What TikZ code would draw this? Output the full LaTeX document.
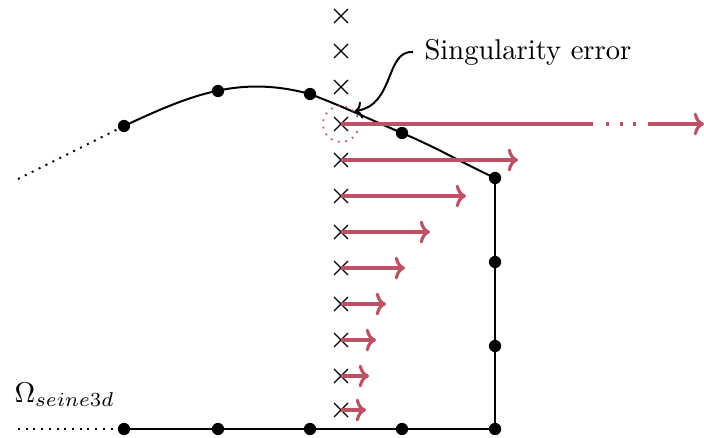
\documentclass[tikz,border=0pt]{standalone}
\usetikzlibrary{arrows.meta}
\definecolor{errred}{RGB}{192,80,100}
\begin{document}
\begin{tikzpicture}[x=0.35pt,y=-0.35pt,
  dot/.style={circle,fill=black,inner sep=0pt,minimum size=4.3pt},
  bnd/.style={line width=0.7pt},
  bdot/.style={line width=0.7pt,dotted},
  crs/.style={line width=0.4pt},
  vel/.style={errred,line width=1.1pt,-{Computer Modern Rightarrow[length=3.6pt,width=8pt]}},
  lbl/.style={inner sep=0pt,font=\normalsize}]
\useasboundingbox (0,0) rectangle (704,437);
% boundary nodes
\node[dot] (p1) at (124,126) {};
\node[dot] (p2) at (218,91) {};
\node[dot] (p3) at (310,94) {};
\node[dot] (p4) at (402,133) {};
\node[dot] (p5) at (495,178) {};
\node[dot] (r1) at (495,262) {};
\node[dot] (r2) at (495,346) {};
\node[dot] (b5) at (495,429) {};
\node[dot] (b1) at (124,429) {};
\node[dot] (b2) at (218,429) {};
\node[dot] (b3) at (310,429) {};
\node[dot] (b4) at (402,429) {};
\coordinate (d1) at (18,179);
\coordinate (d2) at (18,429);
\draw[bnd] (p1.center) to[out=25,in=165] (p3.center) to[out=-21,in=157] (p4.center) to[out=-23,in=155] (p5.center);
\draw[bnd] (p5.center) -- (r1.center) -- (r2.center) -- (b5.center);
\draw[bnd] (b1.center) -- (b2.center) -- (b3.center) -- (b4.center) -- (b5.center);
\draw[bdot] (d1) -- (p1);
\draw[bdot] (d2) -- (b1);
% crosses
\foreach \i/\yy in {1/16,2/51,3/87,4/124,5/160,6/196,7/232,8/268,9/304,10/340,11/376,12/410}{
  \coordinate (c\i) at (341,\yy);
  \draw[crs] ([shift={(-7,-7)}]c\i) -- ([shift={(7,7)}]c\i);
  \draw[crs] ([shift={(-7,7)}]c\i) -- ([shift={(7,-7)}]c\i);
}
% velocity arrows
\foreach \i/\xe in {5/518,6/466,7/430,8/405,9/386,10/376,11/369,12/366}{
  \coordinate (e\i) at (\xe,0 |- c\i);
  \draw[vel] (c\i) -- (e\i);
}
\coordinate (a1) at (593,124);
\coordinate (a2) at (648,124);
\coordinate (a3) at (704,124);
\coordinate (m1) at (606,124);
\coordinate (m2) at (640,124);
\draw[errred,line width=1.1pt] (c4) -- (a1);
\draw[errred,line width=1.1pt,dash pattern=on 1.1pt off 3.62pt] (m1) -- (m2);
\draw[vel] (a2) -- (a3);
\draw[errred,line width=0.6pt,dotted] (c4) circle[radius=18];
% labels
\node[lbl,anchor=base west] (sing) at (424,60) {Singularity error};
\coordinate (st) at (413,52);
\coordinate (en) at (355,111);
\draw[line width=0.7pt,-{Computer Modern Rightarrow[length=2.5pt,width=6pt]}] (st) .. controls (385,50) and (395,105) .. (en);
\node[lbl,anchor=base west] (om) at (14,402) {$\Omega_{seine3d}$};
\end{tikzpicture}
\end{document}
